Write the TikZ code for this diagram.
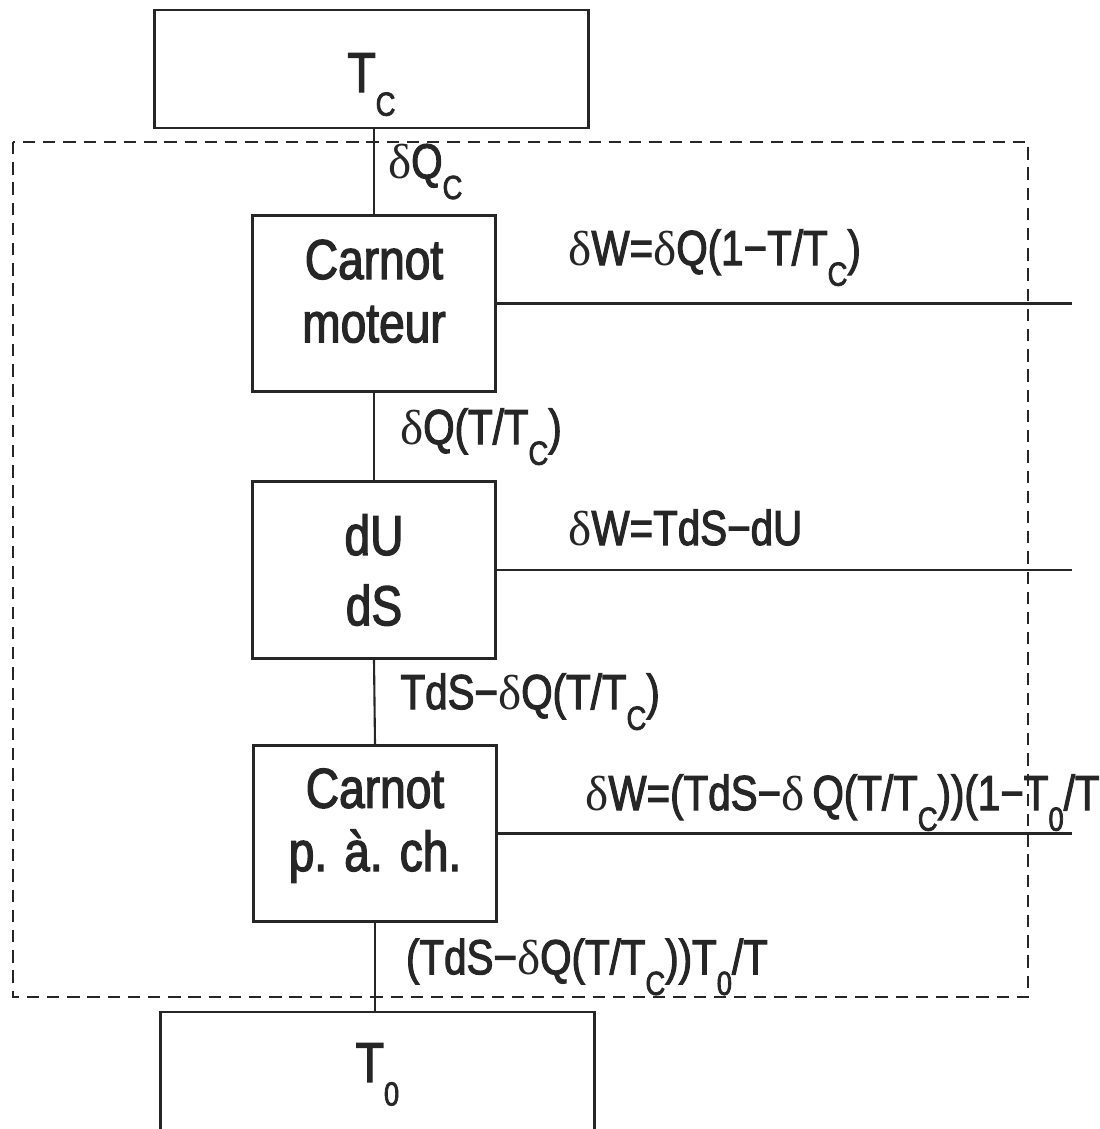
\documentclass[tikz,border=0pt]{standalone}
\usepackage{fontspec}
\setmainfont{Liberation Sans}[FakeStretch=0.82, FakeBold=2.2]
\newfontfamily\deltafont{Liberation Serif}
\usetikzlibrary{positioning}
\newcommand{\dl}{{\deltafont δ}}
\newcommand{\lowsub}[1]{\raisebox{-0.42em}{\fontsize{19}{19}\selectfont #1}}

\begin{document}
\begin{tikzpicture}[x=0.02cm, y=-0.02cm, every node/.style={text=black!85},
  stagebox/.style={draw=black!85, line width=1.6pt, minimum width=4.86cm, minimum height=3.53cm, align=center, font=\fontsize{32}{36}\selectfont},
  bathbox/.style={draw=black!85, line width=1.6pt, minimum width=8.68cm, minimum height=2.36cm, font=\fontsize{32}{36}\selectfont},
  wire/.style={draw=black!85, line width=1.2pt},
  lbl/.style={inner sep=0pt, font=\fontsize{28}{32}\selectfont}]
\useasboundingbox (0,0) rectangle (1099,1129);
\clip (0,0) rectangle (1099,1129);

% System boundary
\draw[black!85, line width=1.5pt, dash pattern=on 7pt off 4.5pt] (13,142) rectangle (1028,997);

% Reservoirs and stages
\node (Tc) at (371.5,69) [bathbox, text height=1.4cm] {T\lowsub{C}};
\node (moteur) at (374,303.5) [stagebox, text depth=0.5cm] {Carnot\\moteur};
\node (dUdS) at (374,570) [stagebox, font=\fontsize{32}{40}\selectfont] {dU\\dS};
\node (pac) at (375,833.5) [stagebox, text depth=0.55cm] {Carnot\\p. à. ch.};
\node (T0) at (377.5,1074.5) [bathbox, minimum height=2.5cm] {T\lowsub{0}};

% Heat flows
\draw[wire] (moteur.north |- Tc.south) -- node[right, lbl, midway, xshift=0.26cm] {\dl Q\lowsub{C}} (moteur.north);
\draw[wire] (moteur.south) -- node[right, lbl, midway, xshift=0.5cm] {\dl Q(T/T\lowsub{C})} (dUdS.north);
\draw[wire] (dUdS.south) -- node[right, lbl, midway, xshift=0.5cm] {TdS−\dl Q(T/T\lowsub{C})} (pac.north);
\draw[wire] (pac.south) -- node[right, lbl, midway, xshift=0.6cm] {(TdS−\dl Q(T/T\lowsub{C}))T\lowsub{0}/T} (pac.south |- T0.north);

% Work outputs
\coordinate (rim) at (1072,0);
\draw[wire] (moteur.east) -- (moteur.east -| rim);
\draw[wire] (dUdS.east) -- (dUdS.east -| rim);
\draw[wire] (pac.east) -- (pac.east -| rim);
\node (w1) at (568,265) [lbl, anchor=base west] {\dl W=\dl Q(1−T/T\lowsub{C})};
\node (w2) at (568,545) [lbl, anchor=base west] {\dl W=TdS−dU};
\node (w3) at (585,810) [lbl, anchor=base west] {\dl W=(TdS−\dl\,Q(T/T\lowsub{C}))(1−T\lowsub{0}/T};
\end{tikzpicture}
\end{document}
